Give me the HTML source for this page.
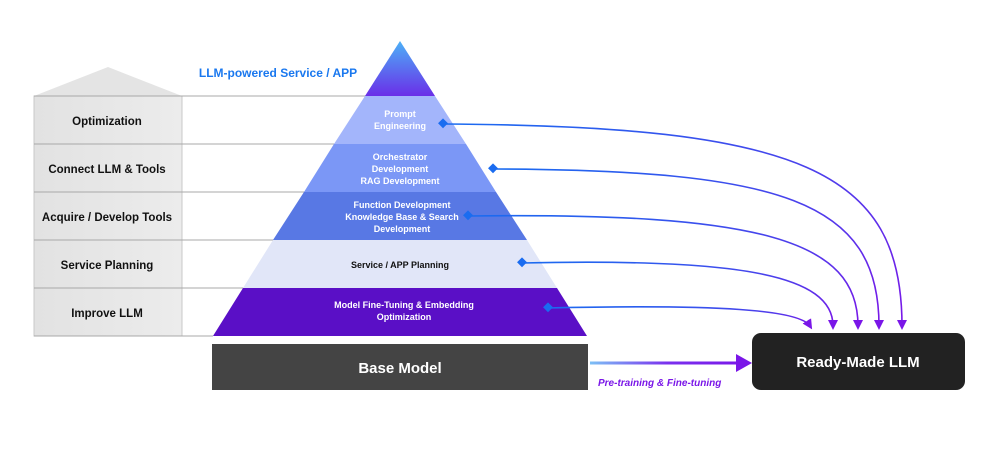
<!DOCTYPE html>
<html><head><meta charset="utf-8"><style>
html,body{margin:0;padding:0;background:#fff;width:1000px;height:455px;overflow:hidden}
svg text{font-family:"Liberation Sans",sans-serif;font-weight:bold}
</style></head><body>
<svg width="1000" height="455" viewBox="0 0 1000 455" xmlns="http://www.w3.org/2000/svg">
<defs>
<linearGradient id="top" x1="0" y1="0" x2="0" y2="1"><stop offset="0" stop-color="#4cb0f7"/><stop offset="1" stop-color="#6a2ee8"/></linearGradient>
<linearGradient id="cv" x1="0" y1="0" x2="1" y2="1"><stop offset="0" stop-color="#1a6cf0"/><stop offset="1" stop-color="#7a16e8"/></linearGradient>
<linearGradient id="ar" gradientUnits="userSpaceOnUse" x1="590" y1="0" x2="745" y2="0"><stop offset="0" stop-color="#7cc0f5"/><stop offset="0.5" stop-color="#7a30ee"/><stop offset="1" stop-color="#7a16e8"/></linearGradient>
<linearGradient id="lb" x1="0" y1="0" x2="1" y2="0"><stop offset="0" stop-color="#e2e2e2"/><stop offset="1" stop-color="#ececec"/></linearGradient>
<marker id="ah" markerWidth="10" markerHeight="10" refX="6" refY="5" orient="auto" markerUnits="userSpaceOnUse"><path d="M0,0 L10,5 L0,10 Z" fill="#7a16e8"/></marker>
</defs>
<polygon points="34,96 108,67 182,96" fill="#e4e4e4"/>
<rect x="34" y="96" width="148" height="240" fill="url(#lb)" stroke="#c8c8c8" stroke-width="1"/>
<g stroke="#a8a8a8" stroke-width="1">
<line x1="34" y1="96" x2="366" y2="96"/>
<line x1="34" y1="144" x2="335" y2="144"/>
<line x1="34" y1="192" x2="305" y2="192"/>
<line x1="34" y1="240" x2="274" y2="240"/>
<line x1="34" y1="288" x2="244" y2="288"/>
<line x1="34" y1="336" x2="213" y2="336"/>
</g>
<g font-size="11.5" fill="#111" text-anchor="middle">
<text x="107" y="125">Optimization</text>
<text x="107" y="173">Connect LLM &amp; Tools</text>
<text x="107" y="221">Acquire / Develop Tools</text>
<text x="107" y="269">Service Planning</text>
<text x="107" y="317">Improve LLM</text>
</g>
<polygon points="400,41 365,96 435,96" fill="url(#top)"/>
<polygon points="365,96 435,96 466,144 334,144" fill="#a3b5fb"/>
<polygon points="334,144 466,144 496,192 304,192" fill="#7b97f6"/>
<polygon points="304,192 496,192 527,240 273,240" fill="#5878e4"/>
<polygon points="273,240 527,240 557,288 243,288" fill="#e1e6f8"/>
<polygon points="243,288 557,288 587,336 213,336" fill="#5a0fc6"/>
<text x="278" y="77" font-size="12" fill="#1a78ef" text-anchor="middle">LLM-powered Service / APP</text>
<g font-size="9" fill="#fff" text-anchor="middle">
<text x="400" y="117">Prompt</text><text x="400" y="129">Engineering</text>
<text x="400" y="160">Orchestrator</text><text x="400" y="172">Development</text><text x="400" y="184">RAG Development</text>
<text x="402" y="208">Function Development</text><text x="402" y="220">Knowledge Base &amp; Search</text><text x="402" y="232">Development</text>
<text x="404" y="308">Model Fine-Tuning &amp; Embedding</text><text x="404" y="320">Optimization</text>
</g>
<text x="400" y="268" font-size="9" fill="#111" text-anchor="middle">Service / APP Planning</text>
<rect x="212" y="344" width="376" height="46" fill="#444"/>
<text x="400" y="373" font-size="15" fill="#fff" text-anchor="middle">Base Model</text>
<rect x="752" y="333" width="213" height="57" rx="9" fill="#222"/>
<text x="858" y="367" font-size="15" fill="#fff" text-anchor="middle">Ready-Made LLM</text>
<rect x="590" y="361.5" width="150" height="3" fill="url(#ar)"/>
<polygon points="736,354 752,363 736,372" fill="#7a16e8"/>
<text x="598" y="386" font-size="10" fill="#7a16e8" font-style="italic" text-anchor="start">Pre-training &amp; Fine-tuning</text>
<g fill="none" stroke="url(#cv)" stroke-width="1.6" marker-end="url(#ah)">
<path d="M443,124 C800,126 902,170 902,326"/>
<path d="M493,169 C780,170 879,200 879,326"/>
<path d="M468,216 C760,212 858,240 858,326"/>
<path d="M522,263 C740,258 833,275 833,326"/>
<path d="M548,308 C720,304 800,310 810,326"/>
</g>
<g fill="#1a6cf0">
<rect x="439" y="120" width="7" height="7" transform="rotate(45 443 124)"/>
<rect x="489" y="165" width="7" height="7" transform="rotate(45 493 169)"/>
<rect x="464" y="212" width="7" height="7" transform="rotate(45 468 216)"/>
<rect x="518" y="259" width="7" height="7" transform="rotate(45 522 263)"/>
<rect x="544" y="304" width="7" height="7" transform="rotate(45 548 308)"/>
</g>
</svg>
</body></html>
